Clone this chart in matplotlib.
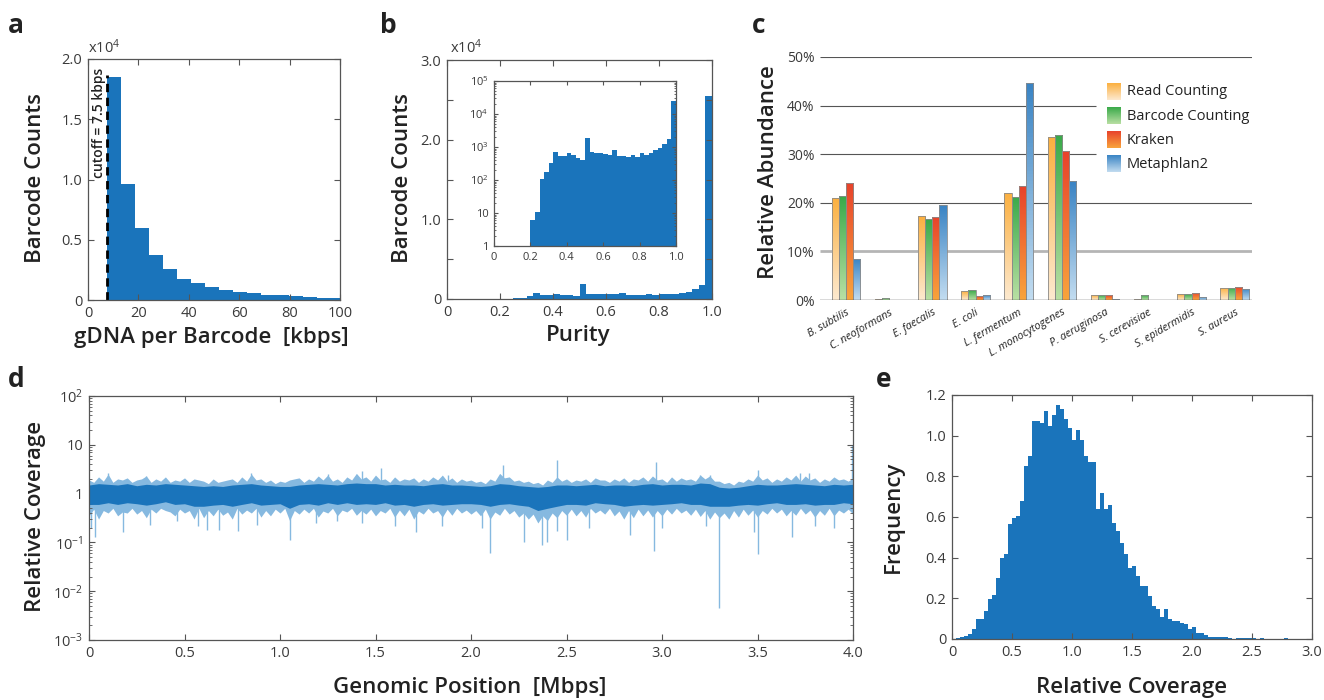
import numpy as np
import matplotlib
matplotlib.use('Agg')
import matplotlib.pyplot as plt
from matplotlib.colors import LinearSegmentedColormap
from matplotlib.ticker import LogLocator, NullFormatter, FixedLocator, MultipleLocator

plt.rcParams['font.family'] = ['Open Sans', 'DejaVu Sans']
plt.rcParams['mathtext.default'] = 'regular'
plt.rcParams['axes.unicode_minus'] = False

# ---- panel a: gDNA per barcode (counts in units of 1e4)
frag_edges = 7.5 + 5.55 * np.arange(18)
frag_counts = [1.85, 0.96, 0.595, 0.37, 0.26, 0.177, 0.138, 0.105, 0.083,
               0.07, 0.055, 0.044, 0.039, 0.03, 0.025, 0.02, 0.017]
cutoff = 7.5

# ---- panel b: purity histogram, bins of 0.025 from 0.2 to 1.0
purity_edges = np.arange(0.2, 1.0001, 0.025)
purity_counts = [6, 11, 110, 170, 330, 720, 520, 540, 650, 560, 480, 400, 1900,
                 690, 680, 650, 630, 580, 790, 520, 520, 510, 590, 510, 660, 590,
                 650, 790, 930, 1200, 1700, 25500]

# ---- panel c: relative abundance (%)
species = ['B. subtilis', 'C. neoformans', 'E. faecalis', 'E. coli', 'L. fermentum',
           'L. monocytogenes', 'P. aeruginosa', 'S. cerevisiae', 'S. epidermidis', 'S. aureus']
methods = ['Read Counting', 'Barcode Counting', 'Kraken', 'Metaphlan2']
read_counting = [21.0, 0.2, 17.2, 1.8, 22.1, 33.5, 1.0, 0.3, 1.2, 2.5]
barcode_counting = [21.3, 0.4, 16.6, 2.0, 21.2, 34.0, 1.0, 1.0, 1.2, 2.5]
kraken = [24.0, 0.0, 17.1, 0.8, 23.4, 30.6, 1.0, 0.0, 1.5, 2.7]
metaphlan2 = [8.5, 0.0, 19.5, 1.0, 44.7, 24.4, 0.2, 0.0, 0.6, 2.3]
method_colors = [('#fde9cf', '#fbb040'), ('#b8dfa3', '#3aaa4a'),
                 ('#f9a43c', '#e8432b'), ('#c2dcf0', '#3a84c4')]

# ---- panel d: coverage along genome
# outer (light) envelope every 0.025 Mbps, inner (dark) envelope every 0.05 Mbps
band_pos = np.linspace(0, 4.0, 161)
band_hi = [1.9, 1.7, 2.2, 1.8, 2.5, 1.7, 2.0, 1.9, 2.1, 1.7, 1.9, 2.0, 2.3, 1.7, 2.0, 1.8, 2.2, 1.7, 1.9, 1.8,
           2.1, 1.7, 2.0, 1.9, 1.8, 1.6, 2.0, 1.7, 1.8, 1.9, 2.0, 1.7, 2.2, 1.8, 2.5, 1.9, 2.0, 1.7, 1.9, 1.6,
           1.8, 1.7, 1.9, 2.0, 2.1, 1.7, 2.0, 1.8, 2.3, 1.9, 2.4, 1.8, 2.0, 1.7, 2.2, 1.9, 2.6, 2.0, 2.2, 1.8,
           2.4, 1.9, 2.0, 1.7, 2.2, 1.8, 2.0, 1.9, 2.1, 1.7, 2.0, 1.8, 2.2, 1.9, 2.4, 1.8, 2.1, 1.7, 2.0, 1.8,
           1.9, 1.7, 1.8, 1.6, 2.0, 1.8, 2.6, 2.1, 2.2, 1.8, 1.9, 1.7, 1.8, 1.6, 1.7, 1.5, 1.9, 1.7, 2.2, 1.8,
           2.0, 1.7, 1.9, 1.8, 2.0, 1.7, 2.1, 1.9, 1.9, 1.7, 2.0, 1.8, 2.1, 1.7, 2.0, 1.9, 2.2, 1.8, 2.3, 1.9,
           2.0, 1.7, 2.2, 1.8, 2.1, 1.9, 2.0, 1.8, 2.4, 2.0, 2.3, 1.8, 1.8, 1.6, 1.7, 1.5, 1.8, 1.7, 2.0, 1.8,
           2.4, 1.9, 2.1, 1.7, 2.0, 1.8, 2.2, 1.9, 2.4, 1.8, 2.3, 1.9, 2.1, 1.7, 2.0, 1.8, 2.2, 1.9, 2.0, 1.8,
           2.1]
band_lo = [0.35, 0.48, 0.3, 0.45, 0.4, 0.5, 0.35, 0.42, 0.4, 0.5, 0.38, 0.45, 0.32, 0.48, 0.4, 0.5, 0.45, 0.42, 0.35, 0.48,
           0.4, 0.45, 0.3, 0.5, 0.32, 0.45, 0.35, 0.48, 0.36, 0.42, 0.3, 0.5, 0.38, 0.46, 0.4, 0.5, 0.33, 0.45, 0.35, 0.48,
           0.4, 0.5, 0.28, 0.45, 0.38, 0.48, 0.4, 0.5, 0.33, 0.44, 0.4, 0.5, 0.35, 0.46, 0.42, 0.5, 0.36, 0.45, 0.38, 0.48,
           0.35, 0.45, 0.4, 0.5, 0.33, 0.46, 0.35, 0.48, 0.3, 0.44, 0.38, 0.5, 0.4, 0.45, 0.33, 0.48, 0.36, 0.5, 0.4, 0.46,
           0.38, 0.45, 0.35, 0.48, 0.3, 0.42, 0.36, 0.5, 0.38, 0.45, 0.33, 0.4, 0.3, 0.38, 0.25, 0.35, 0.28, 0.4, 0.32, 0.45,
           0.36, 0.48, 0.35, 0.45, 0.33, 0.5, 0.4, 0.46, 0.38, 0.5, 0.35, 0.44, 0.3, 0.45, 0.32, 0.48, 0.35, 0.46, 0.33, 0.45,
           0.35, 0.48, 0.38, 0.5, 0.4, 0.46, 0.36, 0.48, 0.34, 0.45, 0.3, 0.42, 0.32, 0.4, 0.3, 0.45, 0.33, 0.48, 0.36, 0.46,
           0.33, 0.45, 0.38, 0.5, 0.4, 0.48, 0.35, 0.45, 0.36, 0.5, 0.38, 0.46, 0.33, 0.45, 0.36, 0.5, 0.35, 0.46, 0.4, 0.48,
           0.38]
core_pos = np.linspace(0, 4.0, 81)
core_hi = [1.5, 1.6, 1.55, 1.5, 1.6, 1.45, 1.55, 1.5, 1.6, 1.55, 1.5, 1.45, 1.4, 1.45, 1.4, 1.5,
           1.55, 1.6, 1.5, 1.45, 1.4, 1.4, 1.5, 1.55, 1.6, 1.55, 1.5, 1.6, 1.65, 1.6, 1.6, 1.5,
           1.55, 1.5, 1.5, 1.45, 1.55, 1.6, 1.5, 1.5, 1.45, 1.4, 1.45, 1.6, 1.55, 1.45, 1.4, 1.35,
           1.4, 1.5, 1.5, 1.45, 1.5, 1.55, 1.45, 1.5, 1.5, 1.45, 1.55, 1.6, 1.5, 1.55, 1.55, 1.5,
           1.65, 1.6, 1.35, 1.3, 1.35, 1.45, 1.55, 1.5, 1.5, 1.55, 1.6, 1.55, 1.5, 1.45, 1.55, 1.5,
           1.55]
core_lo = [0.6, 0.6, 0.65, 0.6, 0.65, 0.62, 0.58, 0.62, 0.68, 0.6, 0.62, 0.55, 0.55, 0.58, 0.6,
           0.55, 0.6, 0.65, 0.58, 0.6, 0.62, 0.5, 0.6, 0.62, 0.58, 0.65, 0.6, 0.65, 0.6, 0.62,
           0.6, 0.65, 0.58, 0.6, 0.55, 0.6, 0.62, 0.58, 0.6, 0.62, 0.62, 0.6, 0.55, 0.6, 0.62,
           0.58, 0.55, 0.45, 0.5, 0.55, 0.6, 0.6, 0.58, 0.65, 0.62, 0.6, 0.55, 0.58, 0.6, 0.58,
           0.6, 0.62, 0.65, 0.6, 0.6, 0.55, 0.55, 0.55, 0.58, 0.6, 0.58, 0.62, 0.65, 0.6, 0.6,
           0.62, 0.58, 0.6, 0.6, 0.65, 0.62]
dip_x = [0.01, 0.03, 0.18, 0.32, 0.46, 0.57, 0.62, 0.68, 0.78, 0.88, 1.05, 1.19, 1.30, 1.43,
         1.60, 1.71, 1.85, 2.06, 2.10, 2.28, 2.37, 2.40, 2.45, 2.50, 2.62, 2.83, 2.96, 3.00,
         3.23, 3.30, 3.48, 3.50, 3.68, 3.80, 3.90]
dip_y = [0.2, 0.13, 0.16, 0.23, 0.27, 0.22, 0.18, 0.18, 0.17, 0.23, 0.11, 0.25, 0.27, 0.25,
         0.22, 0.16, 0.22, 0.2, 0.06, 0.1, 0.09, 0.1, 0.17, 0.11, 0.2, 0.14, 0.066, 0.2,
         0.22, 0.0046, 0.16, 0.057, 0.13, 0.22, 0.2]
peak_x = [0.10, 0.30, 0.85, 1.25, 1.43, 1.53, 1.88, 2.17, 2.45, 2.97, 3.20, 3.25, 3.50,
          3.72, 3.77, 3.995]
peak_y = [2.6, 2.3, 2.6, 2.5, 2.85, 3.3, 2.4, 3.9, 4.8, 4.4, 2.4, 2.4, 3.1, 2.6, 2.6, 10.0]

# ---- panel e: coverage histogram, bins of 1/30
cov_edges = np.linspace(0, 3.0, 91)
cov_freq = [0, 0.005, 0.01, 0.015, 0.025, 0.05, 0.1, 0.1, 0.14, 0.195,
            0.215, 0.30, 0.40, 0.42, 0.565, 0.595, 0.605, 0.68, 0.85, 0.90,
            1.07, 1.07, 1.06, 1.12, 1.05, 1.10, 1.15, 1.13, 1.08, 1.04,
            0.98, 1.03, 0.98, 0.90, 0.87, 0.87, 0.64, 0.72, 0.64, 0.66,
            0.57, 0.53, 0.47, 0.42, 0.35, 0.36, 0.31, 0.26, 0.26, 0.21,
            0.16, 0.15, 0.11, 0.15, 0.10, 0.09, 0.09, 0.08, 0.075, 0.05,
            0.06, 0.03, 0.03, 0.02, 0.012, 0.012, 0.01, 0.012, 0.008, 0.003,
            0.002, 0.003, 0.004, 0.006, 0.003, 0.004, 0.001, 0.004, 0, 0,
            0, 0, 0, 0.003, 0, 0, 0, 0, 0, 0]

BLUE = '#1a74bb'
LIGHT = '#86b9e0'
TXT = '#222222'
TICK = '#3a3a3a'

fig = plt.figure(figsize=(13.24, 7.0), dpi=100)
W, H = 1324.0, 700.0


def px_axes(l, t, r, b):
    return fig.add_axes([l / W, 1 - b / H, (r - l) / W, (b - t) / H])


def ftext(x, y, s, **kw):
    fig.text(x / W, 1 - y / H, s, **kw)


def matlab_box(ax, size=10.5):
    for sp in ax.spines.values():
        sp.set_color('#555555')
        sp.set_linewidth(0.9)
    ax.tick_params(direction='in', top=True, right=True, length=4, width=0.8,
                   color='#555555', labelcolor=TICK, labelsize=size, pad=4)
    ax.tick_params(which='minor', direction='in', top=True, right=True, length=2,
                   width=0.6, color='#555555')


# ================= a
ax = px_axes(88, 59, 340, 300)
ax.stairs(frag_counts, frag_edges, fill=True, color=BLUE)
ax.plot([cutoff, cutoff], [0, 1.87], color='black', ls=(0, (3, 2)), lw=2)
ax.text(cutoff - 3.3, 1.93, 'cutoff = 7.5 kbps', rotation=90, ha='center', va='top',
        fontsize=10, fontweight='semibold', color=TXT)
ax.set_xlim(0, 100)
ax.set_ylim(0, 2.0)
ax.set_xticks([0, 20, 40, 60, 80, 100])
ax.set_yticks([0, 0.5, 1.0, 1.5, 2.0])
ax.set_yticklabels(['0', '0.5', '1.0', '1.5', '2.0'])
matlab_box(ax)
ftext(88, 53, 'x10$^4$', fontsize=10.5, color=TICK)

# ================= b
ax = px_axes(447, 60, 712, 299)
ax.stairs(np.array(purity_counts) / 1e4, purity_edges, fill=True, color=BLUE)
ax.set_xlim(0, 1.0)
ax.set_ylim(0, 3.0)
ax.set_xticks([0, 0.2, 0.4, 0.6, 0.8, 1.0])
ax.set_xticklabels(['0', '0.2', '0.4', '0.6', '0.8', '1.0'])
ax.set_yticks([0, 1.0, 2.0, 3.0])
ax.set_yticklabels(['0', '1.0', '2.0', '3.0'])
ax.yaxis.set_minor_locator(MultipleLocator(0.5))
matlab_box(ax)
ax.tick_params(which='minor', length=4, width=0.8)
ftext(450, 53, 'x10$^4$', fontsize=10.5, color=TICK)

ins = px_axes(494, 81, 676, 246)
ins.stairs(purity_counts, purity_edges, fill=True, color=BLUE, baseline=1)
ins.set_yscale('log')
ins.set_xlim(0, 1.0)
ins.set_ylim(1, 1e5)
ins.set_xticks([0, 0.2, 0.4, 0.6, 0.8, 1.0])
ins.set_xticklabels(['0', '0.2', '0.4', '0.6', '0.8', '1.0'])
ins.yaxis.set_major_locator(FixedLocator([1, 10, 100, 1e3, 1e4, 1e5]))
ins.set_yticklabels(['1', '10', '10$^2$', '10$^3$', '10$^4$', '10$^5$'])
ins.yaxis.set_minor_locator(LogLocator(subs=range(2, 10)))
ins.yaxis.set_minor_formatter(NullFormatter())
matlab_box(ins, size=8)
ins.tick_params(length=3)
ins.tick_params(which='minor', length=1.5)

# ================= c
ax = px_axes(820, 57, 1252, 300)
series = [read_counting, barcode_counting, kraken, metaphlan2]
xs = np.arange(len(species))
bw = 0.165
ax.hlines([20, 50], -0.6, 9.4, color='#555555', lw=0.8, zorder=1)
ax.hlines([30, 40], -0.6, 5.79, color='#555555', lw=0.8, zorder=1)
ax.hlines(10, -0.6, 9.4, color='#b5b5b5', lw=2.0, zorder=1)
grad = np.linspace(0, 1, 64).reshape(-1, 1)
for i, (vals, (c0, c1)) in enumerate(zip(series, method_colors)):
    cmap = LinearSegmentedColormap.from_list('m%d' % i, [c0, c1])
    bars = ax.bar(xs + (i - 1.5) * bw, vals, width=bw, facecolor='none',
                  edgecolor='#8a8a8a', linewidth=0.6, zorder=3)
    for b in bars:
        h = b.get_height()
        if h <= 0:
            continue
        x0 = b.get_x()
        im = ax.imshow(grad, cmap=cmap, origin='lower', aspect='auto',
                       extent=(x0, x0 + b.get_width(), 0, h), zorder=2)
        im.set_clip_path(b)
    # legend square
    ly = 42.8 - 4.95 * i
    ax.imshow(grad, cmap=cmap, origin='lower', aspect='auto',
              extent=(6.04, 6.36, ly - 1.65, ly + 1.65), zorder=2)
    ax.text(6.5, ly, methods[i], va='center', ha='left', fontsize=10.5, color=TXT)
ax.axhline(0, color='#444444', lw=1.0, zorder=4)
ax.set_xlim(-0.6, 9.4)
ax.set_ylim(0, 50)
ax.set_yticks([0, 10, 20, 30, 40, 50])
ax.set_yticklabels(['0%', '10%', '20%', '30%', '40%', '50%'])
ax.set_xticks(xs)
ax.set_xticklabels(species, rotation=30, ha='right', rotation_mode='anchor',
                   fontsize=7.8, style='italic', color=TXT)
ax.tick_params(axis='y', length=0, labelsize=10, labelcolor=TICK, pad=4)
ax.tick_params(axis='x', length=0, pad=5)
for sp in ax.spines.values():
    sp.set_visible(False)

# ================= d
ax = px_axes(89, 396, 853, 640)
ax.fill_between(band_pos, band_lo, band_hi, color=LIGHT, lw=0, zorder=1)
ax.vlines(dip_x, dip_y, 0.6, color=LIGHT, lw=1.0, zorder=1)
ax.vlines(peak_x, 1.2, peak_y, color=LIGHT, lw=1.0, zorder=1)
ax.fill_between(core_pos, core_lo, core_hi, color=BLUE, lw=0, zorder=2)
ax.set_yscale('log')
ax.set_xlim(0, 4.0)
ax.set_ylim(1e-3, 1e2)
ax.set_xticks(np.arange(0, 4.01, 0.5))
ax.set_xticklabels(['0', '0.5', '1.0', '1.5', '2.0', '2.5', '3.0', '3.5', '4.0'])
ax.yaxis.set_major_locator(FixedLocator([1e-3, 1e-2, 1e-1, 1, 10, 100]))
ax.set_yticklabels(['10$^{-3}$', '10$^{-2}$', '10$^{-1}$', '1', '10', '10$^2$'])
ax.yaxis.set_minor_locator(LogLocator(subs=range(2, 10)))
ax.yaxis.set_minor_formatter(NullFormatter())
matlab_box(ax)

# ================= e
ax = px_axes(952, 395, 1312, 639)
ax.stairs(cov_freq, cov_edges, fill=True, color=BLUE)
ax.set_xlim(0, 3.0)
ax.set_ylim(0, 1.2)
ax.set_xticks(np.arange(0, 3.01, 0.5))
ax.set_xticklabels(['0', '0.5', '1.0', '1.5', '2.0', '2.5', '3.0'])
ax.set_yticks(np.arange(0, 1.21, 0.2))
ax.set_yticklabels(['0', '0.2', '0.4', '0.6', '0.8', '1.0', '1.2'])
matlab_box(ax)

# ================= labels
lab = dict(fontsize=16, fontweight='semibold', color=TXT, ha='center', va='center')
ftext(36, 178, 'Barcode Counts', rotation=90, **lab)
ftext(211, 338, 'gDNA per Barcode  [kbps]', **lab)
ftext(402, 178, 'Barcode Counts', rotation=90, **lab)
ftext(578, 336, 'Purity', **lab)
ftext(768, 172, 'Relative Abundance', rotation=90, **lab)
ftext(36, 516, 'Relative Coverage', rotation=90, **lab)
ftext(470, 688, 'Genomic Position  [Mbps]', **lab)
ftext(893, 517, 'Frequency', rotation=90, **lab)
ftext(1132, 688, 'Relative Coverage', **lab)

let = dict(fontsize=19, fontweight='bold', color=TXT, ha='left', va='baseline')
ftext(8, 33, 'a', **let)
ftext(380, 33, 'b', **let)
ftext(752, 33, 'c', **let)
ftext(8, 387, 'd', **let)
ftext(876, 387, 'e', **let)

fig.savefig('out.png', dpi=100)
